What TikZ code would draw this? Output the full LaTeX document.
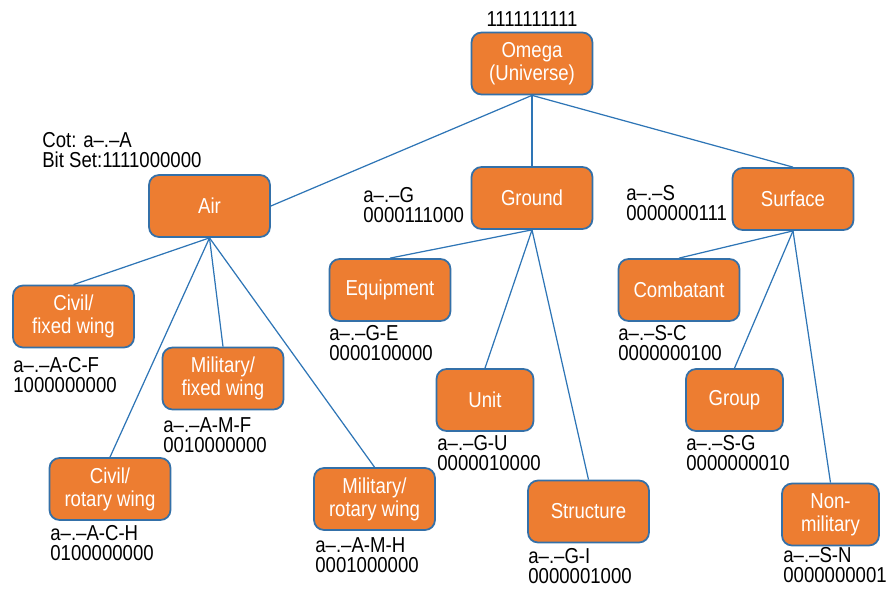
\documentclass[tikz,border=0pt]{standalone}
\usepackage{fontspec}
\setmainfont{Liberation Sans}[FakeStretch=0.86]
\usepackage{xcolor}
\definecolor{catorange}{RGB}{237, 125, 49}
\definecolor{catedge}{RGB}{52, 112, 168}
\definecolor{catline}{RGB}{46, 117, 182}

\begin{document}
\begin{tikzpicture}[x=0.02cm, y=-0.02cm,
    every node/.style={align=center, font=\fontsize{12.3}{13}\selectfont},
    cat/.style={draw=catedge, line width=1pt, rounded corners=0.2cm, fill=catorange, text=white,
      minimum width=2.42cm, minimum height=1.24cm, inner sep=2pt},
    smallcat/.style={cat, minimum width=1.94cm},
    bitlabel/.style={align=left, anchor=north west, inner sep=0pt, font=\fontsize{12.3}{11.5}\selectfont},
    link/.style={draw=catline, line width=0.7pt}]
    \useasboundingbox (0,0) rectangle (890,589);

    % root
    \node[cat] (omega) at (532,63.5) {Omega\\(Universe)};
    \node[anchor=base, inner sep=0pt] (omega-bits) at (532,26) {1111111111};

    % first level
    \node[cat] (air) at (209.5,206) {Air};
    \node[cat] (ground) at (532,198) {Ground};
    \node[cat] (surface) at (793,199) {Surface};
    \node[bitlabel] (air-bits) at (42,132) {Cot: a–.–A\\Bit Set:1111000000};
    \node[bitlabel] (ground-bits) at (363,187) {a–.–G\\0000111000};
    \node[bitlabel] (surface-bits) at (626,185) {a–.–S\\0000000111};

    % air branch
    \node[cat] (civfix) at (73.5,316.5) {Civil/\\fixed wing};
    \node[cat] (milfix) at (223,378.5) {Military/\\fixed wing};
    \node[cat] (civrot) at (110,489) {Civil/\\rotary wing};
    \node[cat] (milrot) at (374.5,499) {Military/\\rotary wing};
    \node[bitlabel] (civfix-bits) at (13,357) {a–.–A-C-F\\1000000000};
    \node[bitlabel] (milfix-bits) at (163,417) {a–.–A-M-F\\0010000000};
    \node[bitlabel] (civrot-bits) at (50,525) {a–.–A-C-H\\0100000000};
    \node[bitlabel] (milrot-bits) at (315,537) {a–.–A-M-H\\0001000000};

    % ground branch
    \node[cat] (equip) at (390,290) {Equipment};
    \node[smallcat] (unit) at (485,400) {Unit};
    \node[cat] (struct) at (588.5,511.5) {Structure};
    \node[bitlabel] (equip-bits) at (329,325) {a–.–G-E\\0000100000};
    \node[bitlabel] (unit-bits) at (437,435) {a–.–G-U\\0000010000};
    \node[bitlabel] (struct-bits) at (528,548) {a–.–G-I\\0000001000};

    % surface branch
    \node[cat] (combat) at (679,290) {Combatant};
    \node[smallcat] (group) at (734.5,400) {Group};
    \node[smallcat] (nonmil) at (830.5,514.5) {Non-\\military};
    \node[bitlabel] (combat-bits) at (618,325) {a–.–S-C\\0000000100};
    \node[bitlabel] (group-bits) at (686,435) {a–.–S-G\\0000000010};
    \node[bitlabel] (nonmil-bits) at (783,547) {a–.–S-N\\0000000001};

    \draw[link] (omega.south) -- (air.east);
    \draw[link] (omega.south) -- (ground.north);
    \draw[link] (omega.south) -- (surface.north);

    \draw[link] (air.south) -- (civfix.north);
    \draw[link] (air.south) -- (milfix.north);
    \draw[link] (air.south) -- (civrot.north);
    \draw[link] (air.south) -- (milrot.north);

    \draw[link] (ground.south) -- (equip.north);
    \draw[link] (ground.south) -- (unit.north);
    \draw[link] (ground.south) -- (struct.north);

    \draw[link] (surface.south) -- (combat.north);
    \draw[link] (surface.south) -- (group.north);
    \draw[link] (surface.south) -- (nonmil.north);
\end{tikzpicture}
\end{document}
